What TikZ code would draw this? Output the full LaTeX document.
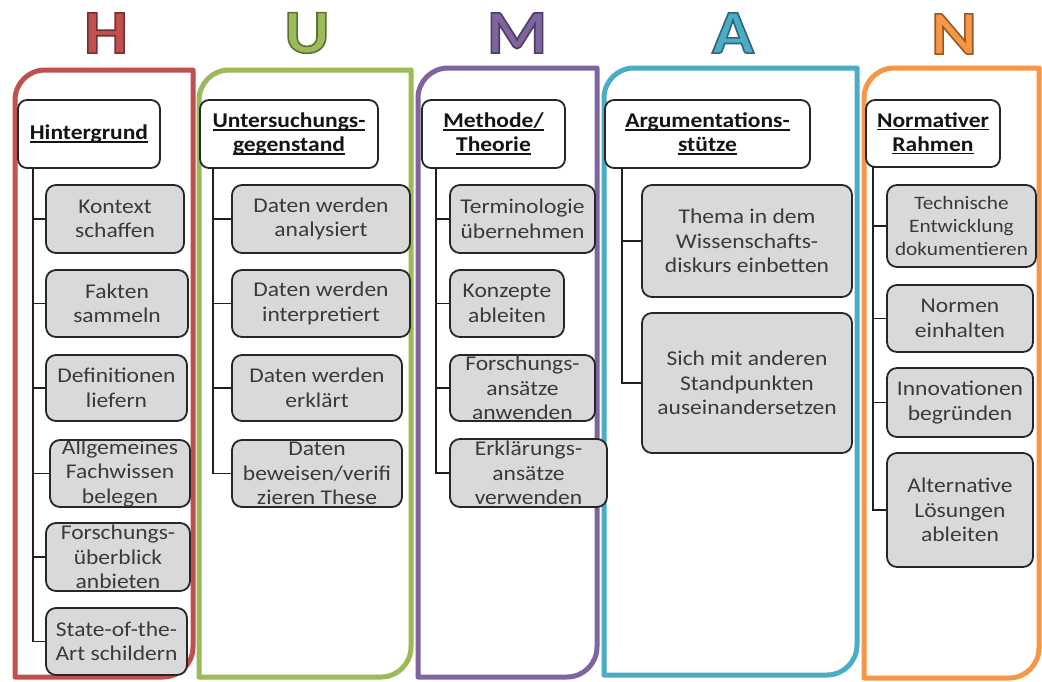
\documentclass[tikz,border=0pt]{standalone}
\usepackage{fontspec}
\setmainfont{Carlito}[FakeStretch=1.12]
\definecolor{hred}{HTML}{C0504D}
\definecolor{ugreen}{HTML}{9BBB59}
\definecolor{mpurple}{HTML}{8064A2}
\definecolor{ablue}{HTML}{4BACC6}
\definecolor{norange}{HTML}{F79646}
\definecolor{boxgray}{HTML}{D9D9D9}
\definecolor{txtgray}{HTML}{3A3A3A}
\tikzset{
  frame/.style={line width=5pt, line join=round},
  hbox/.style={draw=black!85, line width=1.8pt, fill=white, rounded corners=9pt, inner sep=0pt},
  gbox/.style={draw=black!85, line width=1.8pt, fill=boxgray, rounded corners=10pt, inner sep=0pt},
  gtxt/.style={align=center, text=txtgray, font=\fontsize{21}{24.5}\selectfont, inner sep=0pt},
  htxt/.style={align=center, text=black!92, font=\bfseries\fontsize{21}{24}\selectfont, inner sep=0pt},
  conn/.style={line width=1.8pt, draw=black!88},
  lettxt/.style={inner sep=0pt, font=\bfseries\fontsize{62}{62}\selectfont},
}
\newcommand\uln[1]{\setbox0=\hbox{#1}\rlap{\rule[-3pt]{\wd0}{1.4pt}}\box0}
\newcommand\hframe[6]{%
  \draw[frame, draw=#1] (#2,#5) -- (#2,{#3+#6}) .. controls (#2,{#3+0.448*#6}) and ({#2+0.448*#6},#3) .. ({#2+#6},#3)
    -- (#4,#3) -- (#4,{#5-#6}) .. controls (#4,{#5-0.448*#6}) and ({#4-0.448*#6},#5) .. ({#4-#6},#5) -- cycle;}
% #1 fill colour, #2 stroke rgb, #3 x, #4 y, #5 letter
\newcommand\humlet[5]{%
  \node[lettxt, text=#1] (L#5) at (#3,#4) {\special{pdf:literal direct 2 Tr 1.6 w #2 RG}#5\special{pdf:literal direct 0 Tr}};}
\newcommand\mkbox[8]{%
  \pgfmathsetmacro\bxw{#6-#4}\pgfmathsetmacro\bxh{#7-#5}%
  \node[#1, minimum width=\bxw pt, minimum height=\bxh pt] (#3) at ({(#4+#6)/2},{(#5+#7)/2}) {};
  \node[#2] (#3t) at (#3.center) {#8};}
\begin{document}
\begin{tikzpicture}[x=1pt,y=-1pt]
\useasboundingbox[fill=white] (0,0) rectangle (1042,681);
% frames
\hframe{hred}{15}{70}{193}{677}{30}
\hframe{ugreen}{199}{70}{411}{677}{30}
\hframe{mpurple}{418}{68}{597}{677}{30}
\hframe{ablue}{604}{68}{857}{675}{30}
\hframe{norange}{864}{68}{1039}{678}{30}
% letters
\humlet{hred}{0.45 0.19 0.18}{106}{33}{H}
\humlet{ugreen}{0.36 0.44 0.21}{307}{33}{U}
\humlet{mpurple}{0.30 0.24 0.38}{517}{33}{M}
\humlet{ablue}{0.18 0.40 0.47}{733}{33}{A}
\humlet{norange}{0.58 0.35 0.16}{954}{34}{N}
% headers
\mkbox{hbox}{htxt}{hh}{18}{100}{160}{168}{\uln{Hintergrund}}
\mkbox{hbox}{htxt}{uh}{200}{100}{378}{168}{\uln{Untersuchungs-}\\\uln{gegenstand}}
\mkbox{hbox}{htxt}{mh}{422}{100}{565}{168}{\uln{Methode/}\\\uln{Theorie}}
\mkbox{hbox}{htxt}{ah}{605}{100}{810}{168}{\uln{Argumentations-}\\\uln{stütze}}
\mkbox{hbox}{htxt}{nh}{866}{100}{1000}{167}{\uln{Normativer}\\\uln{Rahmen}}
% connector tops
\coordinate (hT) at (33,168);
\coordinate (uT) at (213,168);
\coordinate (mT) at (436,168);
\coordinate (aT) at (622,168);
\coordinate (nT) at (873,167);
% H column
\mkbox{gbox}{gtxt}{h1}{46}{185}{184}{253}{Kontext\\schaffen}
\mkbox{gbox}{gtxt}{h2}{46}{270}{188}{337}{Fakten\\sammeln}
\mkbox{gbox}{gtxt}{h3}{46}{355}{187}{421}{Definitionen\\liefern}
\mkbox{gbox}{gtxt}{h4}{50}{440}{190}{507}{Allgemeines\\Fachwissen\\belegen}
\mkbox{gbox}{gtxt}{h5}{46}{523}{190}{591}{Forschungs-\\überblick\\anbieten}
\mkbox{gbox}{gtxt}{h6}{46}{608}{187}{675}{State-of-the-\\Art schildern}
% U column
\mkbox{gbox}{gtxt}{u1}{232}{185}{410}{253}{Daten werden\\analysiert}
\mkbox{gbox}{gtxt}{u2}{232}{270}{410}{337}{Daten werden\\interpretiert}
\mkbox{gbox}{gtxt}{u3}{232}{355}{402}{421}{Daten werden\\erklärt}
\mkbox{gbox}{gtxt}{u4}{232}{440}{402}{507}{Daten\\beweisen/verifi\\zieren These}
% M column
\mkbox{gbox}{gtxt}{m1}{450}{185}{595}{253}{Terminologie\\übernehmen}
\mkbox{gbox}{gtxt}{m2}{450}{270}{564}{337}{Konzepte\\ableiten}
\mkbox{gbox}{gtxt}{m3}{450}{355}{595}{421}{Forschungs-\\ansätze\\anwenden}
\mkbox{gbox}{gtxt}{m4}{450}{439}{607}{507}{Erklärungs-\\ansätze\\verwenden}
% A column
\mkbox{gbox}{gtxt}{a1}{642}{185}{852}{297}{Thema in dem\\Wissenschafts-\\diskurs einbetten}
\mkbox{gbox}{gtxt}{a2}{642}{313}{852}{453}{Sich mit anderen\\Standpunkten\\auseinandersetzen}
% N column
\mkbox{gbox}{gtxt,font=\fontsize{19}{23}\selectfont}{n1}{887}{185}{1036}{267}{Technische\\Entwicklung\\dokumentieren}
\mkbox{gbox}{gtxt}{n2}{887}{285}{1033}{352}{Normen\\einhalten}
\mkbox{gbox}{gtxt}{n3}{887}{368}{1033}{437}{Innovationen\\begründen}
\mkbox{gbox}{gtxt}{n4}{887}{453}{1033}{567}{Alternative\\Lösungen\\ableiten}
% connectors
\draw[conn] (hT) |- (h6.west);
\foreach \b in {h1,h2,h3,h4,h5} \draw[conn] (hT |- \b.west) -- (\b.west);
\draw[conn] (uT) |- (u4.west);
\foreach \b in {u1,u2,u3} \draw[conn] (uT |- \b.west) -- (\b.west);
\draw[conn] (mT) |- (m4.west);
\foreach \b in {m1,m2,m3} \draw[conn] (mT |- \b.west) -- (\b.west);
\draw[conn] (aT) |- (a2.west);
\draw[conn] (aT |- a1.west) -- (a1.west);
\draw[conn] (nT) |- (n4.west);
\foreach \b in {n1,n2,n3} \draw[conn] (nT |- \b.west) -- (\b.west);
\end{tikzpicture}
\end{document}
